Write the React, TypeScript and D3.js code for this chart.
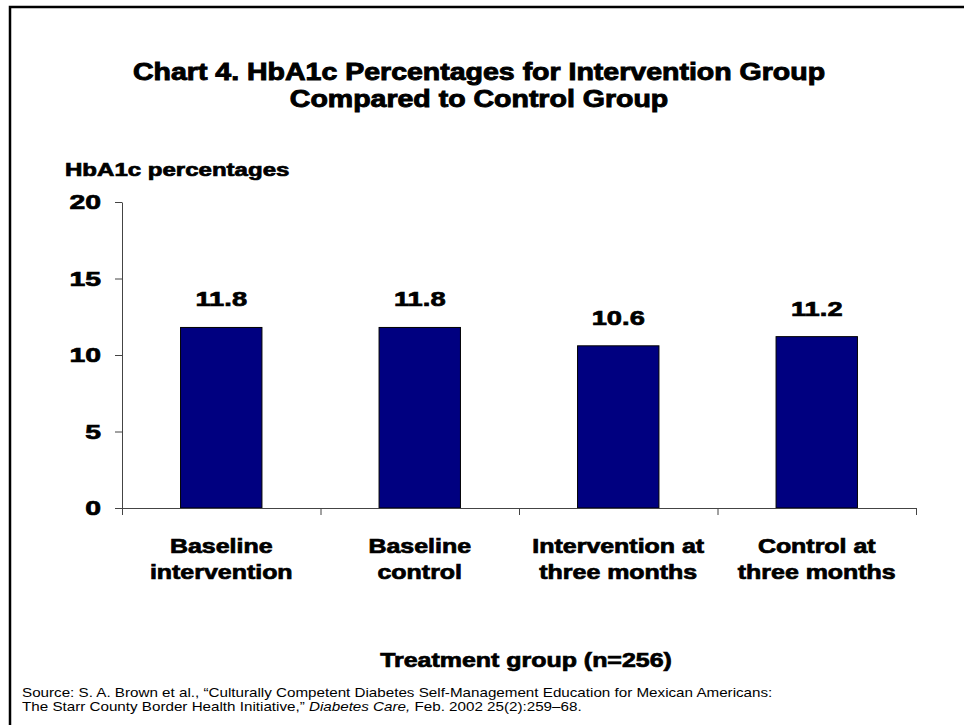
import { useEffect, useRef } from 'react';
import * as d3 from 'd3';

const categories = [
    ['Baseline', 'intervention'],
    ['Baseline', 'control'],
    ['Intervention at', 'three months'],
    ['Control at', 'three months'],
];
const values = [11.8, 11.8, 10.6, 11.2];
const yTicks = [0, 5, 10, 15, 20];

const W = 964;
const H = 725;
const font = "'Liberation Sans', Arial, sans-serif";

type TextSel = d3.Selection<SVGTextElement, unknown, null, undefined>;

// bold "black" look: Liberation bold, stroked and stretched sideways
const heavy = (sel: TextSel, size: number, sw = 0.7) =>
    sel
        .attr('font-family', font)
        .attr('font-weight', 'bold')
        .attr('font-size', size)
        .attr('fill', '#000')
        .attr('stroke', '#000')
        .attr('stroke-width', sw);

export default function App() {
    const ref = useRef<SVGSVGElement | null>(null);

    useEffect(() => {
        if (!ref.current) return;
        const svg = d3.select(ref.current);
        svg.selectAll('*').remove();

        const left = 122;
        const right = 916;
        const top = 202;
        const bottom = 508;

        const x = d3
            .scaleBand()
            .domain(categories.map((_, i) => String(i)))
            .range([left, right])
            .padding(0);
        const y = d3.scaleLinear().domain([0, 20]).range([bottom, top]);
        const barW = x.bandwidth() * 0.41;
        const cx = (i: number) => x(String(i))! + x.bandwidth() / 2;

        svg.append('rect').attr('width', W).attr('height', H).attr('fill', '#fff');

        // frame (left + top edges only)
        svg.append('path')
            .attr('d', `M10,${H + 2} L10,7 L${W + 2},7`)
            .attr('fill', 'none')
            .attr('stroke', '#000')
            .attr('stroke-width', 2.5);

        const title = heavy(
            svg.append('text').attr('text-anchor', 'middle').attr('transform', 'translate(479,0) scale(1.24,1)'),
            23,
            0.9
        );
        title.append('tspan').attr('x', 0).attr('y', 80).text('Chart 4. HbA1c Percentages for Intervention Group');
        title.append('tspan').attr('x', 0).attr('y', 107).text('Compared to Control Group');

        heavy(svg.append('text').attr('transform', 'translate(65,176) scale(1.3,1)').text('HbA1c percentages'), 18.5);

        // bars
        svg.append('g')
            .selectAll('rect')
            .data(values)
            .join('rect')
            .attr('x', (_, i) => x(String(i))! + (x.bandwidth() - barW) / 2)
            .attr('y', d => y(d))
            .attr('width', barW)
            .attr('height', d => bottom - y(d))
            .attr('fill', '#000080')
            .attr('stroke', '#000')
            .attr('stroke-width', 1);

        // value labels
        svg.append('g')
            .selectAll('text')
            .data(values)
            .join('text')
            .attr('transform', (d, i) => `translate(${cx(i)},${y(d) - 21}) scale(1.3,1)`)
            .attr('text-anchor', 'middle')
            .attr('font-family', font)
            .attr('font-weight', 'bold')
            .attr('font-size', 21)
            .attr('stroke', '#000')
            .attr('stroke-width', 0.7)
            .text(d => d.toFixed(1));

        // y axis
        const ya = svg
            .append('g')
            .attr('transform', `translate(${left},0)`)
            .call(d3.axisLeft(y).tickValues(yTicks).tickSize(7).tickSizeOuter(0));
        ya.select('.domain').attr('stroke', '#444');
        ya.selectAll('line').attr('stroke', '#444');
        ya.selectAll('text')
            .attr('x', 0)
            .attr('transform', 'translate(-21,0) scale(1.35,1)')
            .attr('font-family', font)
            .attr('font-weight', 'bold')
            .attr('font-size', 21)
            .attr('fill', '#000')
            .attr('stroke', '#000')
            .attr('stroke-width', 0.7);

        // x axis with ticks at band edges
        const xa = svg.append('g');
        xa.append('line')
            .attr('x1', left)
            .attr('x2', right)
            .attr('y1', bottom + 0.5)
            .attr('y2', bottom + 0.5)
            .attr('stroke', '#444');
        const edges = categories.map((_, i) => x(String(i))!).concat([right]);
        xa.selectAll('line.tk')
            .data(edges)
            .join('line')
            .attr('class', 'tk')
            .attr('x1', d => d + 0.5)
            .attr('x2', d => d + 0.5)
            .attr('y1', bottom)
            .attr('y2', bottom + 7)
            .attr('stroke', '#444');

        const cl = svg
            .append('g')
            .selectAll('text')
            .data(categories)
            .join('text')
            .attr('transform', (_, i) => `translate(${cx(i)},0) scale(1.28,1)`)
            .attr('text-anchor', 'middle')
            .attr('font-family', font)
            .attr('font-weight', 'bold')
            .attr('font-size', 19.5)
            .attr('stroke', '#000')
            .attr('stroke-width', 0.7);
        cl.append('tspan').attr('x', 0).attr('y', 553).text(d => d[0]);
        cl.append('tspan').attr('x', 0).attr('y', 579).text(d => d[1]);

        heavy(
            svg.append('text').attr('text-anchor', 'middle').attr('transform', 'translate(526,667) scale(1.28,1)').text('Treatment group (n=256)'),
            19.5
        );

        const src = svg
            .append('text')
            .attr('transform', 'translate(22,0) scale(1.17,1)')
            .attr('font-family', font)
            .attr('font-size', 13)
            .attr('fill', '#000');
        src.append('tspan')
            .attr('x', 0)
            .attr('y', 697)
            .text('Source: S. A. Brown et al., \u201cCulturally Competent Diabetes Self-Management Education for Mexican Americans:');
        const l2 = svg
            .append('text')
            .attr('transform', 'translate(22,711) scale(1.17,1)')
            .attr('font-family', font)
            .attr('font-size', 13)
            .attr('fill', '#000');
        l2.append('tspan').text('The Starr County Border Health Initiative,\u201d ');
        l2.append('tspan').attr('font-style', 'italic').text('Diabetes Care,');
        l2.append('tspan').text(' Feb. 2002 25(2):259\u201368.');
    }, []);

    return <svg ref={ref} width={W} height={H} style={{ position: 'absolute', left: 0, top: 0 }} />;
}
